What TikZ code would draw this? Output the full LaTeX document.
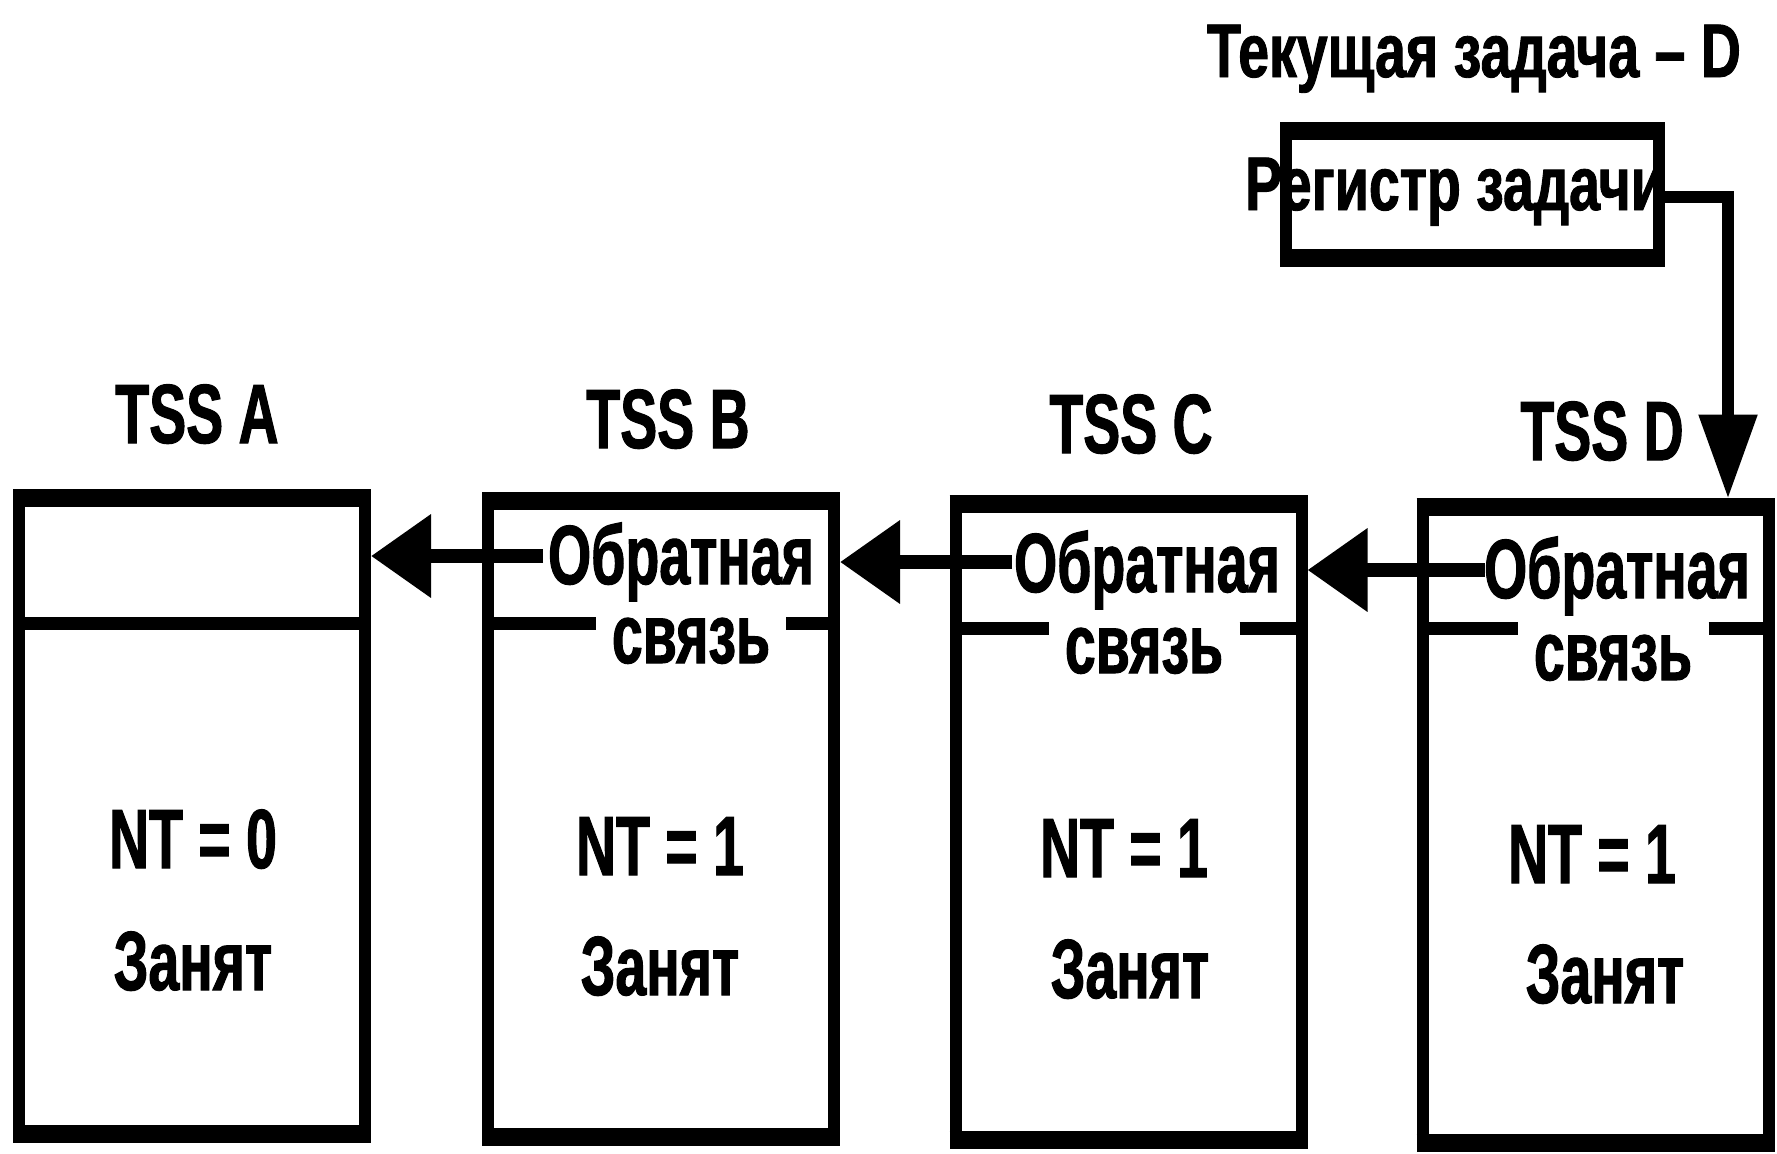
\documentclass[tikz,border=0pt]{standalone}
\usepackage{fontspec}
\setmainfont{Liberation Sans}[FakeStretch=0.66, BoldFeatures={FakeBold=1.2}]
\newfontfamily\headfont{Liberation Sans}[FakeStretch=0.73, BoldFeatures={FakeBold=1.2}]
\usetikzlibrary{arrows.meta}

\begin{document}
\begin{tikzpicture}[x=0.5pt, y=-0.5pt,
  txt/.style={inner sep=0pt, anchor=base, font=\bfseries\fontsize{42}{44}\selectfont},
  head/.style={inner sep=0pt, anchor=base, font=\headfont\bfseries\fontsize{38}{40}\selectfont},
  tssbox/.style={draw, line width=6pt, minimum width=173pt, minimum height=318pt, inner sep=0pt, outer sep=0pt},
  regbox/.style={draw, line width=6pt, minimum width=186.5pt, minimum height=63.5pt, inner sep=0pt, outer sep=0pt},
  thickedge/.style={line width=9pt, shorten <=-3pt, shorten >=-3pt},
  splitline/.style={line width=6.5pt},
  fblink/.style={line width=7pt, -{Triangle[length=30pt, width=40pt]}},
  taskfeed/.style={line width=6pt, -{Triangle[length=42pt, width=28pt]}}]

\fill[white] (0,0) rectangle (1777,1153);
\useasboundingbox (0,0) rectangle (1777,1153);

% task state segments
\node[tssbox] (A) at (192,816) {};
\node[tssbox] (B) at (661,818.5) {};
\node[tssbox] (C) at (1128.5,821.5) {};
\node[tssbox] (D) at (1595.5,824.5) {};
\foreach \b in {A,B,C,D} {
  \draw[thickedge] (\b.north west) -- (\b.north east);
  \draw[thickedge] (\b.south west) -- (\b.south east);
}

% segment titles
\node[txt] (tA) at (197,443) {TSS A};
\node[txt] (tB) at (668,448) {TSS B};
\node[txt] (tC) at (1131,453) {TSS C};
\node[txt] (tD) at (1602,460) {TSS D};

% NT flag and busy state
\node[txt] (nA) at (193,868) {NT = 0};
\node[txt] (nB) at (660,875) {NT = 1};
\node[txt] (nC) at (1124,877) {NT = 1};
\node[txt] (nD) at (1592,883) {NT = 1};
\node[txt] (zA) at (193,990) {Занят};
\node[txt] (zB) at (660,995) {Занят};
\node[txt] (zC) at (1130,998) {Занят};
\node[txt] (zD) at (1605,1003) {Занят};

% back-link field of A (empty)
\draw[splitline] (A.west |- 0,623) -- (A.east |- 0,623);

% back-link fields of B, C, D
\node[txt] (oB) at (681,584) {Обратная};
\node[txt] (oC) at (1147,592) {Обратная};
\node[txt] (oD) at (1617,598) {Обратная};
\node[txt, inner xsep=8pt] (sB) at (691,663) {связь};
\node[txt, inner xsep=8pt] (sC) at (1144,673) {связь};
\node[txt, inner xsep=8pt] (sD) at (1613,680) {связь};

\draw[splitline] (B.west |- 0,623) -- (sB.west |- 0,623);
\draw[splitline] (sB.east |- 0,623) -- (B.east |- 0,623);
\draw[splitline] (C.west |- 0,628) -- (sC.west |- 0,628);
\draw[splitline] (sC.east |- 0,628) -- (C.east |- 0,628);
\draw[splitline] (D.west |- 0,628) -- (sD.west |- 0,628);
\draw[splitline] (sD.east |- 0,628) -- (D.east |- 0,628);

% back links
\coordinate (fB) at (543,556);
\coordinate (fC) at (1012,562);
\coordinate (fD) at (1485,570);
\draw[fblink] (fB) -- ([xshift=3pt]A.east |- fB);
\draw[fblink] (fC) -- ([xshift=3pt]B.east |- fC);
\draw[fblink] (fD) -- ([xshift=3pt]C.east |- fD);

% task register
\node[head] (cur) at (1474,77) {Текущая задача – D};
\node[regbox] (reg) at (1472.5,194.5) {};
\draw[thickedge] (reg.north west) -- (reg.north east);
\draw[thickedge] (reg.south west) -- (reg.south east);
\node[head] (regtxt) at (1455,210) {Регистр задачи};
\draw[taskfeed] (reg.east |- 0,197) -| ([yshift=4pt]1728,0 |- D.north);

\end{tikzpicture}
\end{document}
